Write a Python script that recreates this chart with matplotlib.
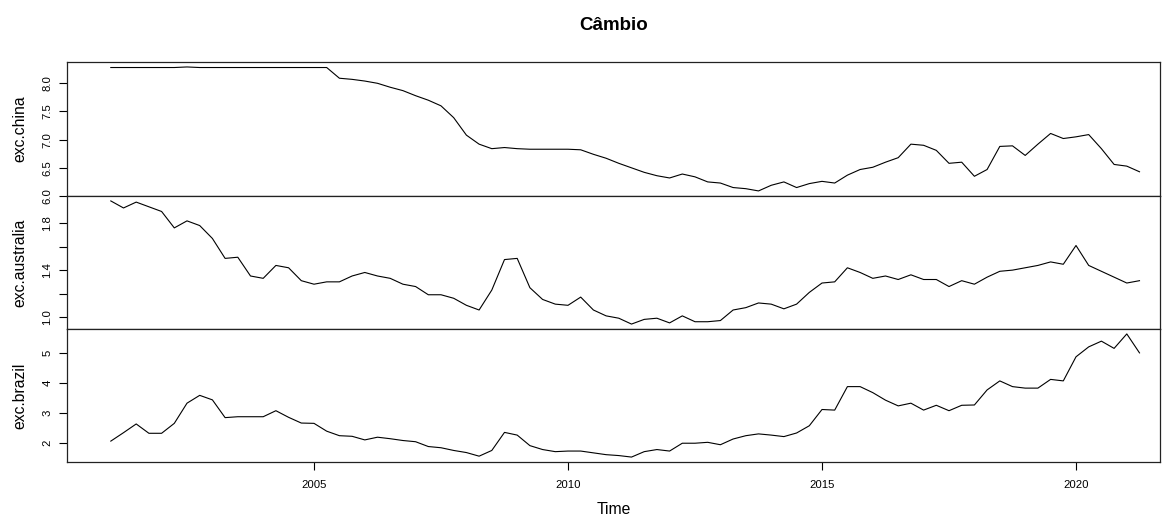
import numpy as np
import matplotlib
matplotlib.use("Agg")
import matplotlib.pyplot as plt

plt.rcParams['font.family'] = ['Liberation Sans', 'DejaVu Sans']

# Quarterly exchange rates (local currency per USD), 2001 Q1 - 2021 Q2
start_year = 2001.0
freq = 4

exc_china = [
    8.28, 8.28, 8.28, 8.28,
    8.28, 8.28, 8.29, 8.28,
    8.28, 8.28, 8.28, 8.28,
    8.28, 8.28, 8.28, 8.28,
    8.28, 8.28, 8.09, 8.07,
    8.04, 8.00, 7.93, 7.87,
    7.78, 7.70, 7.60, 7.39,
    7.08, 6.92, 6.84, 6.86,
    6.84, 6.83, 6.83, 6.83,
    6.83, 6.82, 6.74, 6.67,
    6.58, 6.50, 6.42, 6.36,
    6.32, 6.39, 6.34, 6.25,
    6.23, 6.15, 6.13, 6.09,
    6.19, 6.25, 6.15, 6.22,
    6.26, 6.23, 6.37, 6.47,
    6.51, 6.60, 6.68, 6.92,
    6.90, 6.81, 6.58, 6.60,
    6.35, 6.47, 6.88, 6.89,
    6.72, 6.92, 7.11, 7.02,
    7.05, 7.09, 6.84, 6.56,
    6.53, 6.43,
]

exc_australia = [
    1.99, 1.93, 1.98, 1.94,
    1.90, 1.76, 1.82, 1.78,
    1.67, 1.50, 1.51, 1.35,
    1.33, 1.44, 1.42, 1.31,
    1.28, 1.30, 1.30, 1.35,
    1.38, 1.35, 1.33, 1.28,
    1.26, 1.19, 1.19, 1.16,
    1.10, 1.06, 1.23, 1.49,
    1.50, 1.25, 1.15, 1.11,
    1.10, 1.17, 1.06, 1.01,
    0.99, 0.94, 0.98, 0.99,
    0.95, 1.01, 0.96, 0.96,
    0.97, 1.06, 1.08, 1.12,
    1.11, 1.07, 1.11, 1.21,
    1.29, 1.30, 1.42, 1.38,
    1.33, 1.35, 1.32, 1.36,
    1.32, 1.32, 1.26, 1.31,
    1.28, 1.34, 1.39, 1.40,
    1.42, 1.44, 1.47, 1.45,
    1.61, 1.44, 1.39, 1.34,
    1.29, 1.31,
]

exc_brazil = [
    2.07, 2.35, 2.64, 2.33,
    2.33, 2.66, 3.33, 3.59,
    3.44, 2.85, 2.88, 2.88,
    2.88, 3.08, 2.86, 2.67,
    2.66, 2.40, 2.25, 2.23,
    2.11, 2.20, 2.15, 2.09,
    2.05, 1.89, 1.85, 1.76,
    1.69, 1.57, 1.76, 2.36,
    2.27, 1.92, 1.79, 1.72,
    1.74, 1.74, 1.68, 1.62,
    1.59, 1.54, 1.72, 1.79,
    1.74, 2.00, 2.00, 2.03,
    1.95, 2.14, 2.25, 2.31,
    2.27, 2.22, 2.34, 2.58,
    3.12, 3.10, 3.88, 3.88,
    3.68, 3.43, 3.24, 3.33,
    3.10, 3.26, 3.08, 3.26,
    3.27, 3.77, 4.07, 3.88,
    3.83, 3.83, 4.12, 4.07,
    4.87, 5.20, 5.39, 5.15,
    5.63, 5.00,
]

series_names = ["exc.china", "exc.australia", "exc.brazil"]
y_ticks = [
    [6.0, 6.5, 7.0, 7.5, 8.0],
    [1.0, 1.2, 1.4, 1.6, 1.8],
    [2, 3, 4, 5],
]
y_ticklabels = [
    ["6.0", "6.5", "7.0", "7.5", "8.0"],
    ["1.0", "", "1.4", "", "1.8"],
    ["2", "3", "4", "5"],
]
x_ticks = [2005, 2010, 2015, 2020]
title = "Câmbio"
x_label = "Time"

series = [exc_china, exc_australia, exc_brazil]
n = len(exc_china)
t = start_year + np.arange(n) / freq

W, H = 1170, 518
fig = plt.figure(figsize=(W / 100, H / 100), dpi=100)

left_px, right_px = 67, 1160
panel_edges = [62, 196, 329, 462]

xmin = 2005 + (left_px - 314) / 50.8
xmax = 2005 + (right_px - 314) / 50.8

axes = []
for i, (vals, name) in enumerate(zip(series, series_names)):
    top, bot = panel_edges[i], panel_edges[i + 1]
    ax = fig.add_axes([left_px / W, 1 - bot / H,
                       (right_px - left_px) / W, (bot - top) / H])
    ax.plot(t, vals, color="black", lw=0.8)
    lo, hi = min(vals), max(vals)
    pad = 0.04 * (hi - lo)
    ax.set_ylim(lo - pad, hi + pad)
    ax.set_xlim(xmin, xmax)
    ax.set_yticks(y_ticks[i])
    ax.set_yticklabels(y_ticklabels[i], rotation=90, va="center")
    ax.tick_params(axis="y", length=5.5, width=0.8, pad=5, labelsize=8.2,
                   direction="out")
    for sp in ax.spines.values():
        sp.set_linewidth(0.9)
        sp.set_color("#222222")
    if i < 2:
        ax.set_xticks([])
    else:
        ax.set_xticks(x_ticks)
        ax.set_xticklabels([str(x) for x in x_ticks])
        ax.tick_params(axis="x", length=6, width=0.8, pad=7, labelsize=8.2)
    fig.text(20 / W, 1 - ((top + bot) / 2) / H, name, rotation=90,
             ha="center", va="center", fontsize=11.3)
    axes.append(ax)

fig.text((left_px + right_px) / 2 / W, 1 - 25 / H, title, ha="center",
         va="center", fontsize=13.5, fontweight="bold")
fig.text((left_px + right_px) / 2 / W, 1 - 510 / H, x_label, ha="center",
         va="center", fontsize=11.3)

fig.savefig("out.png", dpi=100)
